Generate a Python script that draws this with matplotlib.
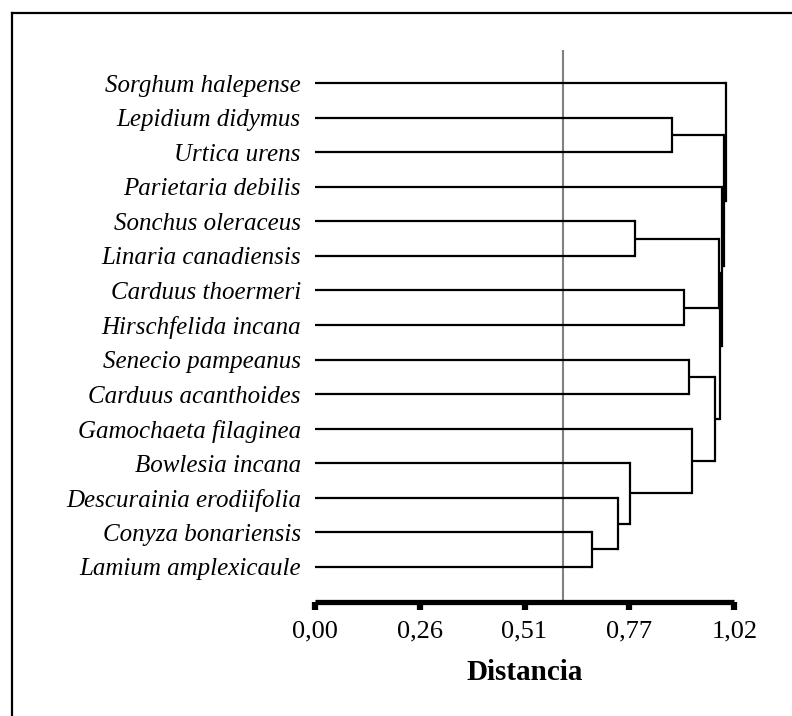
import matplotlib
matplotlib.use("Agg")
import matplotlib.pyplot as plt
from matplotlib.lines import Line2D

# leaves, top to bottom
species = ["Sorghum halepense", "Lepidium didymus", "Urtica urens",
           "Parietaria debilis", "Sonchus oleraceus", "Linaria canadiensis",
           "Carduus thoermeri", "Hirschfelida incana", "Senecio pampeanus",
           "Carduus acanthoides", "Gamochaeta filaginea", "Bowlesia incana",
           "Descurainia erodiifolia", "Conyza bonariensis", "Lamium amplexicaule"]

# merges: (child a, child b, distance); ints < 15 are leaves, >= 15 are earlier merges
merge_a = [13, 12, 11, 4, 1, 6, 8, 10, 21, 18, 24, 3, 19, 0]
merge_b = [14, 15, 16, 5, 2, 7, 9, 17, 22, 20, 23, 25, 26, 27]
merge_h = [0.675, 0.738, 0.766, 0.778, 0.869, 0.898, 0.910, 0.916,
           0.972, 0.982, 0.986, 0.990, 0.994, 0.9995]

tick_vals = [0.0, 0.255, 0.51, 0.765, 1.02]
tick_text = ["0,00", "0,26", "0,51", "0,77", "1,02"]
cut = 0.604

plt.rcParams['font.family'] = ['Liberation Serif', 'DejaVu Serif']

fig = plt.figure(figsize=(7.92, 7.16), dpi=100)
ax = fig.add_axes([314.7 / 792, 114 / 716, 419.6 / 792, 552 / 716])

n = len(species)
node_y = [n - 1 - i for i in range(n)]
node_h = [0.0] * n
for a, b, h in zip(merge_a, merge_b, merge_h):
    for c in (a, b):
        ax.plot([node_h[c], h], [node_y[c], node_y[c]], color='black', lw=1.6,
                solid_capstyle='butt')
    ax.plot([h, h], [node_y[a], node_y[b]], color='black', lw=1.6,
            solid_capstyle='projecting')
    node_y.append((node_y[a] + node_y[b]) / 2)
    node_h.append(h)

ax.axvline(cut, color='#808080', lw=1.5, zorder=0)

ax.set_xlim(0, 1.02)
ax.set_ylim(-1.022, 14.964)
ax.set_xticks(tick_vals)
ax.set_xticklabels(tick_text, fontsize=19)
ax.set_yticks(range(n - 1, -1, -1))
ax.set_yticklabels(species, fontsize=18, style='italic')
ax.tick_params(axis='y', length=0, pad=10)
ax.tick_params(axis='x', length=5.5, width=4.5, direction='out', pad=8)
for s in ['top', 'right', 'left']:
    ax.spines[s].set_visible(False)
ax.spines['bottom'].set_linewidth(3.8)
ax.spines['bottom'].set_capstyle('butt')
ax.set_xlabel("Distancia", fontsize=21, fontweight='bold', labelpad=12)

# outer frame (only left and top visible)
fig.add_artist(Line2D([11.7 / 792, 11.7 / 792], [0, 1 - 13.3 / 716], color='black', lw=1.6,
                      transform=fig.transFigure))
fig.add_artist(Line2D([11.7 / 792, 1], [1 - 13.3 / 716, 1 - 13.3 / 716], color='black', lw=1.6,
                      transform=fig.transFigure))

fig.savefig("out.png", dpi=100)
